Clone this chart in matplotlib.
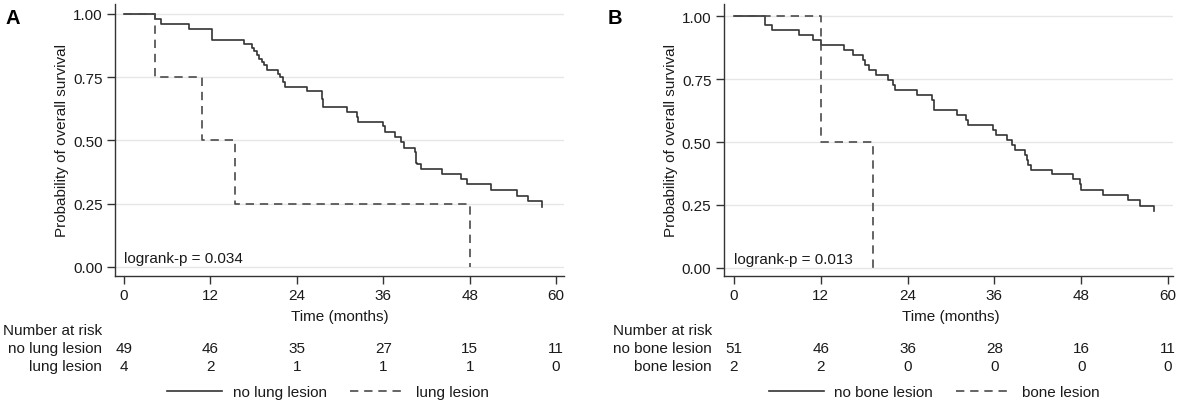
import matplotlib
matplotlib.use("Agg")
import matplotlib.pyplot as plt
from matplotlib.lines import Line2D
from matplotlib import transforms

plt.rcParams['font.family'] = ['Liberation Sans', 'DejaVu Sans']
plt.rcParams['font.size'] = 11

# panel A: lung lesion
a_no_t = [0, 4.3, 5.2, 9.0, 12.2, 16.6, 17.8, 18.0, 18.4, 18.7, 19.2, 19.4, 19.8,
          21.4, 21.7, 22.1, 22.4, 25.4, 27.5, 27.7, 31.0, 32.3, 32.5, 35.9, 36.2,
          37.7, 38.4, 38.9, 40.4, 40.5, 40.7, 41.2, 44.1, 46.8, 47.6, 51.0, 54.6,
          56.1, 58.0]
a_no_s = [1.0, 0.980, 0.959, 0.939, 0.898, 0.880, 0.867, 0.853, 0.836, 0.823, 0.810,
          0.797, 0.777, 0.764, 0.750, 0.731, 0.713, 0.694, 0.664, 0.631, 0.612, 0.592,
          0.572, 0.559, 0.532, 0.513, 0.493, 0.470, 0.453, 0.413, 0.407, 0.387, 0.367,
          0.347, 0.328, 0.304, 0.281, 0.259, 0.239]
a_yes_t = [0, 4.3, 10.8, 15.4, 48.1]
a_yes_s = [1.0, 0.75, 0.5, 0.25, 0.0]

# panel B: bone lesion
b_no_t = [0, 4.3, 5.2, 9.0, 10.9, 12.0, 15.2, 16.5, 17.8, 18.1, 18.6, 19.7, 21.3,
          22.0, 22.3, 25.3, 27.4, 27.6, 30.8, 32.1, 32.4, 35.8, 36.2, 37.8, 38.4,
          38.8, 40.3, 40.5, 40.7, 41.1, 44.0, 46.9, 47.8, 48.0, 51.0, 54.5, 56.1, 58.1]
b_no_s = [1.0, 0.963, 0.943, 0.923, 0.904, 0.884, 0.864, 0.844, 0.824, 0.804, 0.785,
          0.765, 0.745, 0.725, 0.707, 0.686, 0.666, 0.627, 0.608, 0.588, 0.568, 0.548,
          0.528, 0.509, 0.489, 0.469, 0.449, 0.429, 0.410, 0.390, 0.373, 0.353, 0.333,
          0.310, 0.289, 0.269, 0.247, 0.227]
b_yes_t = [0, 12.0, 19.2]
b_yes_s = [1.0, 0.5, 0.0]

risk_times = [0, 12, 24, 36, 48, 60]
a_risk_no = [49, 46, 35, 27, 15, 11]
a_risk_yes = [4, 2, 1, 1, 1, 0]
b_risk_no = [51, 46, 36, 28, 16, 11]
b_risk_yes = [2, 2, 0, 0, 0, 0]

W, H = 1182, 410
fig = plt.figure(figsize=(W / 100, H / 100), dpi=100)
txt = '#1a1a1a'


def panel(left_px, xlim, ylim, t_no, s_no, t_yes, s_yes, pval, letter, letter_x,
          lab_no, lab_yes, risk_no, risk_yes, row_label_x, nrisk_x, leg_x):
    ax = fig.add_axes([left_px / W, (H - 277) / H, 449 / W, 272 / H])
    ax.step(t_no, s_no, where='post', color='#333333', lw=1.2)
    ax.step(t_yes, s_yes, where='post', color='#4a4a4a', lw=1.2, dashes=(5, 3.5))
    ax.set_xlim(*xlim)
    ax.set_ylim(*ylim)
    ax.set_xticks(risk_times)
    ax.set_yticks([0, 0.25, 0.5, 0.75, 1.0])
    ax.set_yticklabels(['0.00', '0.25', '0.50', '0.75', '1.00'])
    ax.yaxis.grid(True, color='#e6e6e6', lw=1)
    ax.set_axisbelow(True)
    for s in ['top', 'right']:
        ax.spines[s].set_visible(False)
    for s in ['left', 'bottom']:
        ax.spines[s].set_color('#333333')
        ax.spines[s].set_linewidth(1.0)
    ax.tick_params(colors='#333333', labelcolor=txt, length=6, width=1, pad=3,
                   labelsize=11)
    ax.set_ylabel('Probability of overall survival', color=txt, fontsize=11, labelpad=3)
    ax.text(0, 0.035, pval, color=txt, fontsize=11, va='center', ha='left')
    fig.text(letter_x / W, (H - 18) / H, letter, fontsize=14.5, fontweight='bold',
             color='black', va='center', ha='left')

    tr = transforms.blended_transform_factory(ax.transData, fig.transFigure)
    ax.text(30, (H - 317) / H, 'Time (months)', transform=tr, ha='center',
            va='center', color=txt, fontsize=11, clip_on=False)
    fig.text(nrisk_x / W, (H - 331) / H, 'Number at risk', ha='left', va='center',
             color=txt, fontsize=11)
    fig.text(row_label_x / W, (H - 349) / H, lab_no, ha='right', va='center',
             color=txt, fontsize=11)
    fig.text(row_label_x / W, (H - 367) / H, lab_yes, ha='right', va='center',
             color=txt, fontsize=11)
    for t, n1, n2 in zip(risk_times, risk_no, risk_yes):
        ax.text(t, (H - 349) / H, str(n1), transform=tr, ha='center', va='center',
                color=txt, fontsize=11, clip_on=False)
        ax.text(t, (H - 367) / H, str(n2), transform=tr, ha='center', va='center',
                color=txt, fontsize=11, clip_on=False)

    handles = [Line2D([], [], color='#333333', lw=1.2),
               Line2D([], [], color='#4a4a4a', lw=1.2, dashes=(5, 3.5))]
    fig.legend(handles, [lab_no, lab_yes], loc='center', ncol=2, frameon=False,
               bbox_to_anchor=(leg_x / W, (H - 393) / H), handlelength=3.6,
               columnspacing=1.5, handletextpad=0.7, fontsize=11, labelcolor=txt)
    return ax


panel(115, (-1.25, 61.1), (-0.0356, 1.0395), a_no_t, a_no_s, a_yes_t, a_yes_s,
      'logrank-p = 0.034', 'A', 6, 'no lung lesion', 'lung lesion',
      a_risk_no, a_risk_yes, 102, 3, 328)
panel(724, (-1.38, 60.7), (-0.032, 1.048), b_no_t, b_no_s, b_yes_t, b_yes_s,
      'logrank-p = 0.013', 'B', 608, 'no bone lesion', 'bone lesion',
      b_risk_no, b_risk_yes, 712, 613, 934)

fig.savefig('out.png', dpi=100)
